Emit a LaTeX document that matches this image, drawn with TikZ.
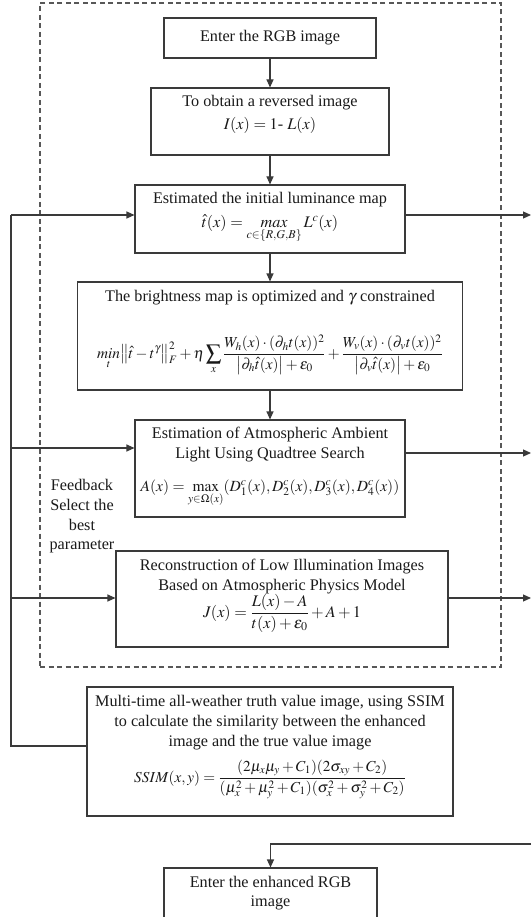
\documentclass[tikz,border=0pt]{standalone}
\usepackage{mathptmx}
\usepackage{amsmath}
\usepackage{fontspec}
\setmainfont{Liberation Serif}
\usetikzlibrary{arrows.meta}
\definecolor{lc}{HTML}{3A3A3A}
\definecolor{tc}{HTML}{1A1A1A}
\begin{document}
\begin{tikzpicture}[x=1pt,y=-1pt,
  font=\fontsize{16.2}{19.7}\selectfont, text=tc,
  box/.style={draw=lc, line width=1.1pt, inner sep=0pt},
  lab/.style={align=center, inner sep=0pt},
  arr/.style={draw=lc, line width=1.1pt, -{Triangle[length=8pt,width=7pt]}},
  ln/.style={draw=lc, line width=1.1pt},
  frame/.style={draw=lc!85, line width=1.1pt, dash pattern=on 5pt off 3.5pt, inner sep=0pt}]
\useasboundingbox (0,0) rectangle (531,917);
\clip (0,0) rectangle (531,917);
\fill[white] (0,0) rectangle (531,917);

% dashed frame
\node[frame, minimum width=461pt, minimum height=664pt] (fr) at (270.5,335) {};

% boxes
\node[box, minimum width=212pt, minimum height=40pt] (b1) at (270,38) {};
\node[box, minimum width=238pt, minimum height=67pt] (b2) at (270,121.5) {};
\node[box, minimum width=270pt, minimum height=68pt] (b3) at (270,219) {};
\node[box, minimum width=385pt, minimum height=108pt] (b4) at (270,336) {};
\node[box, minimum width=270pt, minimum height=97pt] (b5) at (270,468.5) {};
\node[box, minimum width=332pt, minimum height=96pt] (b6) at (282,599) {};
\node[box, minimum width=366pt, minimum height=129pt] (b7) at (270,751.5) {};
\node[box, minimum width=213pt, minimum height=80pt] (b8) at (270.5,908) {};

% texts
\node[lab] (t1) at (270,38) {Enter the RGB image};
\node[lab] (t2a) at (270,103) {To obtain a reversed image};
\node[lab] (t2b) at (270,125) {$I(x) = 1$- $L(x)$};
\node[lab] (t3a) at (270,200) {Estimated the initial luminance map};
\node[lab, anchor=base] (t3b) at (270,227) {$\hat{t}(x) = \mathop{\mathit{max}}\limits_{c\in\{R,G,B\}} L^{c}(x)$};
\node[lab] (t4a) at (270,298) {The brightness map is optimized and $\gamma$ constrained};
\node[lab, anchor=base] (t4b) at (270,358) {\fontsize{15.3}{18}\selectfont$\displaystyle \mathop{\mathit{min}}\limits_{t}\bigl\|\hat{t}-t^{\gamma}\bigr\|_F^2+\eta\sum_{x}\frac{W_h(x)\cdot(\partial_h t(x))^2}{\bigl|\partial_h\hat{t}(x)\bigr|+\varepsilon_0}+\frac{W_v(x)\cdot(\partial_v t(x))^2}{\bigl|\partial_v\hat{t}(x)\bigr|+\varepsilon_0}$};
\node[lab] (t5a) at (270,444.5) {Estimation of Atmospheric Ambient\\Light Using Quadtree Search};
\node[lab, anchor=base] (t5b) at (270,491) {\fontsize{15.5}{18}\selectfont$A(x)=\max\limits_{y\in\Omega(x)}(D_1^c(x),D_2^c(x),D_3^c(x),D_4^c(x))$};
\node[lab] (t6a) at (282,576.5) {Reconstruction of Low Illumination Images\\Based on Atmospheric Physics Model};
\node[lab, anchor=base] (t6b) at (282,617) {$J(x)=\dfrac{L(x)-A}{t(x)+\varepsilon_0}+A+1$};
\node[lab] (t7a) at (270,722.5) {Multi-time all-weather truth value image, using SSIM\\to calculate the similarity between the enhanced\\image and the true value image};
\node[lab, anchor=base] (t7b) at (270,782) {\fontsize{15.2}{18}\selectfont$SSIM(x,y)=\dfrac{(2\mu_x\mu_y+C_1)(2\sigma_{xy}+C_2)}{(\mu_x^2+\mu_y^2+C_1)(\sigma_x^2+\sigma_y^2+C_2)}$};
\node[lab] (t8) at (270.5,893) {Enter the enhanced RGB\\image};
\node[lab, fill=white, inner sep=1pt] (fb) at (82,516.5) {Feedback\\Select the\\best\\parameter};

% main flow
\draw[arr] (b1) -- (b2);
\draw[arr] (b2) -- (b3);
\draw[arr] (b3.south) -- (b3.south |- b4.north);
\draw[arr] (b3.south |- b4.south) -- (b3.south |- b5.north);

% feedback loop
\coordinate (fbL) at (11,746);
\coordinate (fbT) at (11,215);
\coordinate (f5) at (11,448);
\coordinate (f6) at (11,598);
\draw[ln] (b7.west |- fbL) -- (fbL) -- (fbT);
\draw[arr] (fbT) -- (fbT -| b3.west);
\draw[arr] (f5) -- (f5 -| b5.west);
\draw[arr] (f6) -- (f6 -| b6.west);

% outputs to the right
\coordinate (r3) at (531,215);
\coordinate (r5) at (531,453);
\coordinate (r6) at (531,598);
\coordinate (e8) at (531,844);
\draw[arr] (b3.east |- r3) -- (r3);
\draw[arr] (b5.east |- r5) -- (r5);
\draw[arr] (b6.east |- r6) -- (r6);
\draw[arr] (e8) -- (e8 -| b8.north) -- (b8.north);
\end{tikzpicture}
\end{document}
